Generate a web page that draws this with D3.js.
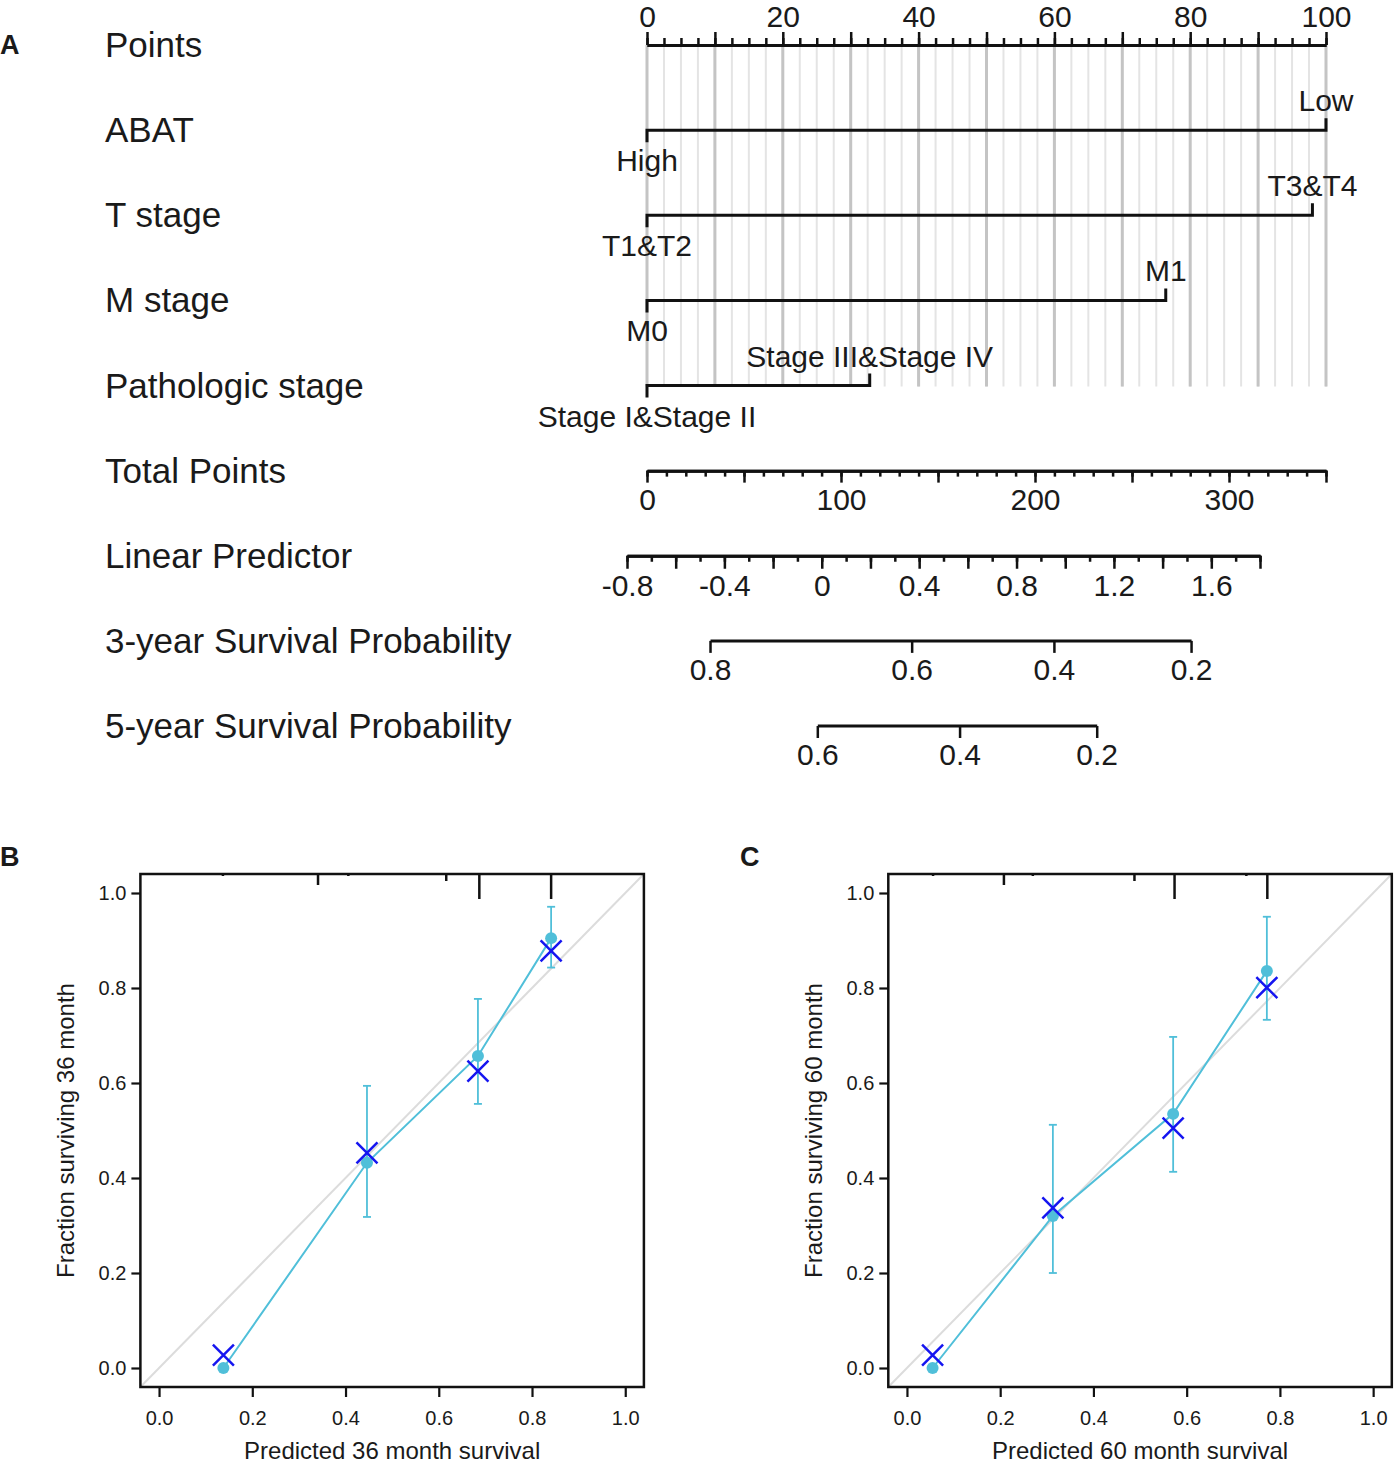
<!DOCTYPE html>
<html>
<head>
<meta charset="utf-8">
<script src="https://cdn.jsdelivr.net/npm/d3@7"></script>
<style>
body { margin: 0; background: #fff; }
text { font-family: "Liberation Sans", Arial, Helvetica, sans-serif; fill: #1a1a1a; }
</style>
</head>
<body>
<script>
// ---- nomogram data ----
var rowNames = ['Points', 'ABAT', 'T stage', 'M stage', 'Pathologic stage',
                'Total Points', 'Linear Predictor', '3-year Survival Probability', '5-year Survival Probability'];
var variables = ['ABAT', 'T stage', 'M stage', 'Pathologic stage'];
var lowLevels = ['High', 'T1&T2', 'M0', 'Stage I&Stage II'];
var highLevels = ['Low', 'T3&T4', 'M1', 'Stage III&Stage IV'];
var highPoints = [100, 98, 76.4, 32.8];
var pointLabels = [0, 20, 40, 60, 80, 100];
var totalLabels = [0, 100, 200, 300];
var lpLabels = [-0.8, -0.4, 0, 0.4, 0.8, 1.2, 1.6];
var surv3Ticks = [0.8, 0.6, 0.4, 0.2];
var surv5Ticks = [0.6, 0.4, 0.2];
var baseSurv3 = 0.703;
var baseSurv5 = 0.595;

// ---- calibration data ----
var predB = [0.138, 0.446, 0.684, 0.841];
var obsB  = [0.000, 0.432, 0.657, 0.905];
var corrB = [0.027, 0.453, 0.625, 0.878];
var loB   = [0.000, 0.318, 0.556, 0.843];
var hiB   = [0.000, 0.594, 0.777, 0.971];
var rugXB = [0.137, 0.341, 0.406, 0.616, 0.687, 0.841];
var rugFB = [0.08, 0.44, 0.08, 0.28, 1, 1];

var predC = [0.055, 0.313, 0.571, 0.772];
var obsC  = [0.000, 0.320, 0.535, 0.836];
var corrC = [0.027, 0.337, 0.505, 0.801];
var loC   = [0.000, 0.200, 0.413, 0.733];
var hiC   = [0.000, 0.512, 0.697, 0.950];
var rugXC = [0.056, 0.208, 0.270, 0.488, 0.574, 0.728, 0.773];
var rugFC = [0.08, 0.44, 0.08, 0.28, 1, 0.08, 1];

var calTicks = [0, 0.2, 0.4, 0.6, 0.8, 1.0];

var svg = d3.select('body').append('svg').attr('width', 1394).attr('height', 1465);

// ================= A: nomogram =================
var rowY = d3.scalePoint().domain(rowNames).range([45, 726]);
var pts = d3.scaleLinear().domain([0, 100]).range([647, 1326]);
var tot = d3.scaleLinear().domain([0, 350]).range([647, 1326]);
var lp  = d3.scaleLinear().domain([-0.8, 1.8]).range([627, 1260]);

svg.append('text').attr('x', 0).attr('y', 54)
   .attr('font-size', 27).attr('font-weight', 'bold').text('A');

// grid
var grid = svg.append('g');
grid.selectAll('line.minor').data(d3.range(0, 100.01, 2.5)).enter().append('line')
   .attr('class', 'minor')
   .attr('x1', d => pts(d)).attr('x2', d => pts(d))
   .attr('y1', rowY('Points')).attr('y2', rowY('Pathologic stage') + 1)
   .attr('stroke', '#e4e4e4').attr('stroke-width', 2);
grid.selectAll('line.major').data(d3.range(0, 100.01, 10)).enter().append('line')
   .attr('class', 'major')
   .attr('x1', d => pts(d)).attr('x2', d => pts(d))
   .attr('y1', rowY('Points')).attr('y2', rowY('Pathologic stage') + 1)
   .attr('stroke', '#c4c4c4').attr('stroke-width', 3);

// row labels
svg.selectAll('text.row').data(rowNames).enter().append('text')
   .attr('class', 'row')
   .attr('x', 105).attr('y', d => rowY(d) + 12)
   .attr('font-size', 35)
   .text(d => d);

function scaleAxis(scale, y, orient, minorVals, majorVals, labelVals, minorLen, majorLen, fmt) {
  var mk = orient === 'top' ? d3.axisTop : d3.axisBottom;
  var g = svg.append('g').attr('transform', 'translate(0,' + y + ')');
  g.append('g').call(mk(scale).tickValues(minorVals).tickSize(minorLen).tickSizeOuter(0).tickFormat(''));
  g.append('g').call(mk(scale).tickValues(majorVals).tickSize(majorLen).tickSizeOuter(0).tickPadding(6)
     .tickFormat(d => labelVals.some(v => Math.abs(v - d) < 1e-9) ? fmt(d) : ''));
  g.selectAll('.domain').attr('stroke', '#111').attr('stroke-width', 3);
  g.selectAll('.tick line').attr('stroke', '#111').attr('stroke-width', 2.5);
  g.selectAll('text').attr('font-size', 30).attr('font-family', null).attr('fill', '#1a1a1a');
  return g;
}

var num = d => String(+d.toFixed(1));

scaleAxis(pts, rowY('Points'), 'top', d3.range(0, 100.01, 2.5), d3.range(0, 100.01, 10), pointLabels, 7, 13, num)
  .selectAll('text').attr('dy', '0.02em');
scaleAxis(tot, rowY('Total Points'), 'bottom', d3.range(0, 350.01, 10), d3.range(0, 350.01, 50), totalLabels, 6, 12, num);
scaleAxis(lp, rowY('Linear Predictor'), 'bottom', d3.range(-8, 18.01, 1).map(d => d / 10),
          d3.range(-8, 18.01, 2).map(d => d / 10), lpLabels, 6, 13, num);

var lp3 = s => Math.log(Math.log(s) / Math.log(baseSurv3));
var lp5 = s => Math.log(Math.log(s) / Math.log(baseSurv5));
function survAxis(ticks, f, y) {
  var g = svg.append('g').attr('transform', 'translate(0,' + y + ')');
  var x = s => lp(f(s));
  g.append('path').attr('d', 'M' + x(ticks[0]) + ',0H' + x(ticks[ticks.length - 1]))
   .attr('stroke', '#111').attr('stroke-width', 3).attr('fill', 'none');
  g.selectAll('line').data(ticks).enter().append('line')
   .attr('x1', x).attr('x2', x).attr('y1', 0).attr('y2', 12)
   .attr('stroke', '#111').attr('stroke-width', 2.5);
  g.selectAll('text').data(ticks).enter().append('text')
   .attr('x', x).attr('y', 39).attr('text-anchor', 'middle').attr('font-size', 30)
   .text(d => d.toFixed(1));
}
survAxis(surv3Ticks, lp3, rowY('3-year Survival Probability'));
survAxis(surv5Ticks, lp5, rowY('5-year Survival Probability'));

// variable rows
var vg = svg.selectAll('g.var').data(variables).enter().append('g').attr('class', 'var')
   .attr('transform', d => 'translate(0,' + rowY(d) + ')');
vg.append('path')
   .attr('d', (d, i) => 'M' + pts(0) + ',12V0H' + pts(highPoints[i]) + 'V-12')
   .attr('stroke', '#111').attr('stroke-width', 3).attr('fill', 'none');
vg.append('text').attr('x', pts(0)).attr('y', 41).attr('text-anchor', 'middle')
   .attr('font-size', 30).text((d, i) => lowLevels[i]);
vg.append('text').attr('x', (d, i) => pts(highPoints[i])).attr('y', -19).attr('text-anchor', 'middle')
   .attr('font-size', 30).text((d, i) => highLevels[i]);

// ================= B, C: calibration =================
function calPanel(opts) {
  var x = d3.scaleLinear().domain([-0.04, 1.04]).range([opts.left, opts.left + 503.5]);
  var y = d3.scaleLinear().domain([-0.04, 1.04]).range([1387, 874]);
  var g = svg.append('g');
  var cyan = '#50bfd9';

  svg.append('text').attr('x', opts.labelX).attr('y', 866)
     .attr('font-size', 27).attr('font-weight', 'bold').text(opts.letter);

  // ideal line
  g.append('line').attr('x1', x(-0.04)).attr('y1', y(-0.04)).attr('x2', x(1.04)).attr('y2', y(1.04))
   .attr('stroke', '#dcdcdc').attr('stroke-width', 2);

  // error bars
  var idx = d3.range(opts.pred.length).filter(i => opts.hi[i] > opts.lo[i]);
  g.selectAll('line.err').data(idx).enter().append('line').attr('class', 'err')
   .attr('x1', i => x(opts.pred[i])).attr('x2', i => x(opts.pred[i]))
   .attr('y1', i => y(opts.lo[i])).attr('y2', i => y(opts.hi[i]))
   .attr('stroke', cyan).attr('stroke-width', 1.8);
  ['lo', 'hi'].forEach(function(k) {
    g.selectAll('line.cap' + k).data(idx).enter().append('line').attr('class', 'cap' + k)
     .attr('x1', i => x(opts.pred[i]) - 4).attr('x2', i => x(opts.pred[i]) + 4)
     .attr('y1', i => y(opts[k][i])).attr('y2', i => y(opts[k][i]))
     .attr('stroke', cyan).attr('stroke-width', 1.8);
  });

  // observed line + dots
  var line = d3.line().x(i => x(opts.pred[i])).y(i => y(opts.obs[i]));
  g.append('path').attr('d', line(d3.range(opts.pred.length)))
   .attr('fill', 'none').attr('stroke', cyan).attr('stroke-width', 2);
  g.selectAll('circle').data(opts.pred).enter().append('circle')
   .attr('cx', d => x(d)).attr('cy', (d, i) => y(opts.obs[i])).attr('r', 6).attr('fill', cyan);

  // bias-corrected crosses
  g.selectAll('path.cross').data(opts.pred).enter().append('path').attr('class', 'cross')
   .attr('transform', (d, i) => 'translate(' + x(d) + ',' + y(opts.corr[i]) + ')')
   .attr('d', 'M-10.5,-10.5L10.5,10.5M-10.5,10.5L10.5,-10.5')
   .attr('stroke', '#1515f0').attr('stroke-width', 2.5);

  // risk distribution ticks at top
  var len = d3.scaleLinear().domain([0, 1]).range([0, 25]);
  g.selectAll('line.rug').data(opts.rugX).enter().append('line').attr('class', 'rug')
   .attr('x1', d => x(d)).attr('x2', d => x(d))
   .attr('y1', y(1.04)).attr('y2', (d, i) => y(1.04) + len(opts.rugF[i]))
   .attr('stroke', '#111').attr('stroke-width', 2.5);

  // frame
  g.append('rect').attr('x', x(-0.04)).attr('y', y(1.04))
   .attr('width', x(1.04) - x(-0.04)).attr('height', y(-0.04) - y(1.04))
   .attr('fill', 'none').attr('stroke', '#111').attr('stroke-width', 2.5);

  // axes
  var gx = g.append('g').attr('transform', 'translate(0,' + y(-0.04) + ')')
   .call(d3.axisBottom(x).tickValues(calTicks).tickSize(10).tickSizeOuter(0).tickPadding(14).tickFormat(d3.format('.1f')));
  var gy = g.append('g').attr('transform', 'translate(' + x(-0.04) + ',0)')
   .call(d3.axisLeft(y).tickValues(calTicks).tickSize(9).tickSizeOuter(0).tickPadding(5).tickFormat(d3.format('.1f')));
  [gx, gy].forEach(function(a) {
    a.select('.domain').remove();
    a.selectAll('.tick line').attr('stroke', '#111').attr('stroke-width', 2.2);
    a.selectAll('text').attr('font-size', 20).attr('font-family', null).attr('fill', '#1a1a1a');
  });

  g.append('text').attr('x', (x(-0.04) + x(1.04)) / 2).attr('y', 1459)
   .attr('text-anchor', 'middle').attr('font-size', 24).text(opts.xTitle);
  g.append('text').attr('transform', 'translate(' + (x(-0.04) - 66) + ',' + (y(-0.04) + y(1.04)) / 2 + ') rotate(-90)')
   .attr('text-anchor', 'middle').attr('font-size', 24).text(opts.yTitle);
}

calPanel({ letter: 'B', labelX: 0, left: 140.4, pred: predB, obs: obsB, corr: corrB, lo: loB, hi: hiB,
           rugX: rugXB, rugF: rugFB, xTitle: 'Predicted 36 month survival', yTitle: 'Fraction surviving 36 month' });
calPanel({ letter: 'C', labelX: 740, left: 888.3, pred: predC, obs: obsC, corr: corrC, lo: loC, hi: hiC,
           rugX: rugXC, rugF: rugFC, xTitle: 'Predicted 60 month survival', yTitle: 'Fraction surviving 60 month' });
</script>
</body>
</html>
